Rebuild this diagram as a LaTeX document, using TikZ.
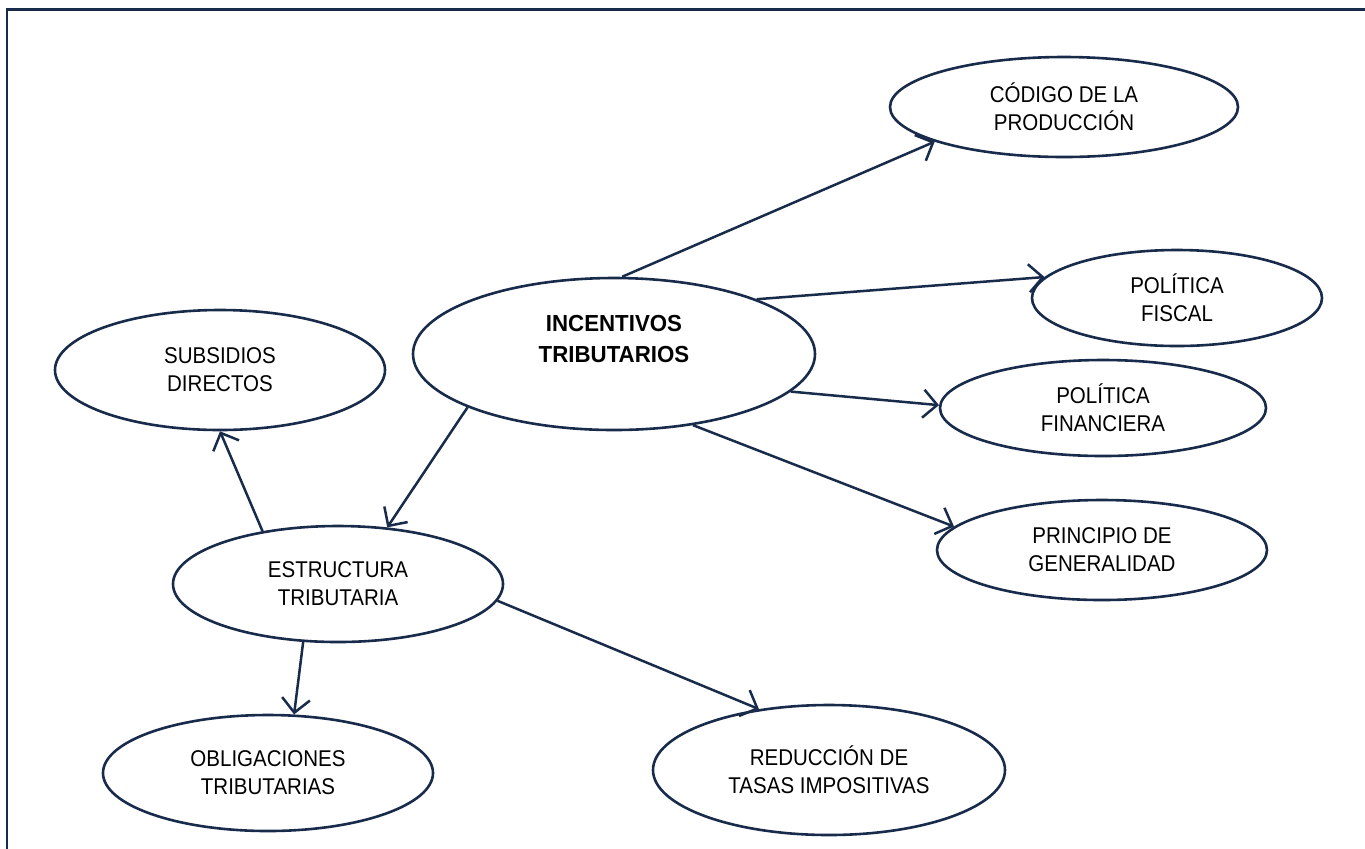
\documentclass[tikz,border=0pt]{standalone}
\usepackage{fontspec}
\setmainfont{Liberation Sans}[FakeStretch=0.9,BoldFeatures={FakeStretch=0.96}]
\usetikzlibrary{shapes.geometric,arrows.meta}
\definecolor{azul}{RGB}{24,43,75}
\begin{document}
\begin{tikzpicture}[x=0.5pt,y=-0.5pt,
    elipse/.style={draw=azul,ellipse,line width=1.3pt,inner sep=0pt,align=center,
        font=\fontsize{11.4}{14}\selectfont},
    flecha/.style={draw=azul,line width=1.25pt,-{Straight Barb[length=7pt,width=14pt,line width=1.25pt]}}]
        \useasboundingbox (0,0) rectangle (1365,848);
        \draw[azul,line width=1.4pt] (7,9.5) rectangle (1380,870);

        \node[elipse,font=\fontsize{11.6}{15.5}\selectfont,minimum width=201pt,minimum height=76pt] (inc) at (614,354) {\textbf{INCENTIVOS}\\\textbf{TRIBUTARIOS}\\\mbox{}};
        \node[elipse,minimum width=174pt,minimum height=50pt] (cod) at (1064,107) {CÓDIGO DE LA\\PRODUCCIÓN};
        \node[elipse,minimum width=145pt,minimum height=48pt] (fis) at (1177,298) {POLÍTICA\\FISCAL};
        \node[elipse,minimum width=163pt,minimum height=48pt] (fin) at (1103,408) {POLÍTICA\\FINANCIERA};
        \node[elipse,minimum width=165pt,minimum height=50pt] (gen) at (1102,550) {PRINCIPIO DE\\GENERALIDAD};
        \node[elipse,minimum width=165pt,minimum height=60pt] (sub) at (220,370) {SUBSIDIOS\\DIRECTOS};
        \node[elipse,minimum width=165pt,minimum height=58pt] (est) at (338,584) {ESTRUCTURA\\TRIBUTARIA};
        \node[elipse,minimum width=165pt,minimum height=58pt] (obl) at (268,773) {OBLIGACIONES\\TRIBUTARIAS};
        \node[elipse,minimum width=176pt,minimum height=65pt] (red) at (829,770) {REDUCCIÓN DE\\TASAS IMPOSITIVAS};

        \draw[flecha] (inc.84) -- (cod.195);
        \draw[flecha] (inc.21) -- (fis.171);
        \draw[flecha] (inc.-12) -- (fin.179);
        \draw[flecha] (inc.-42) -- (gen.171);
        \draw[flecha] (inc.200) -- (est.49);
        \draw[flecha] (est.145) -- (sub.270);
        \draw[flecha] (est.239) -- (obl.66);
        \draw[flecha] (est.-6) -- (red.139);
    \end{tikzpicture}
\end{document}
